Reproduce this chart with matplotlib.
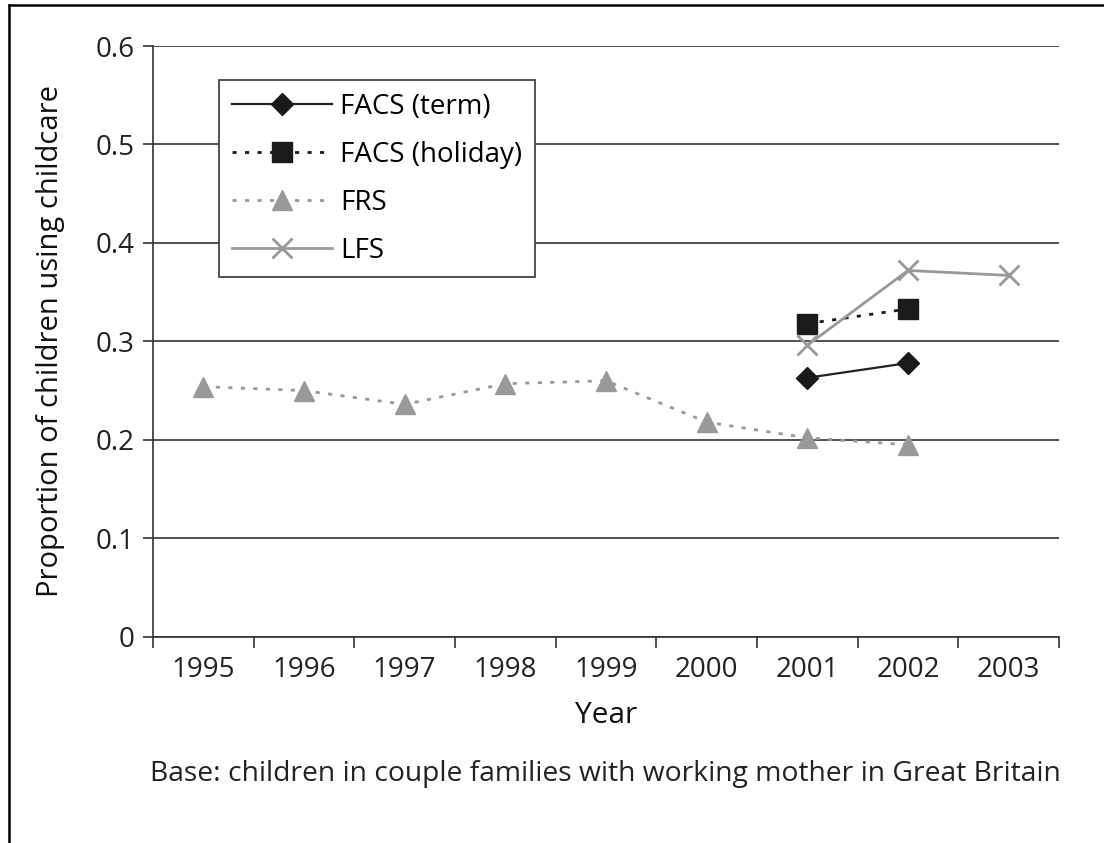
import matplotlib
matplotlib.use("Agg")
import matplotlib.pyplot as plt
from matplotlib.lines import Line2D
from matplotlib.ticker import FixedLocator

plt.rcParams['font.family'] = ['Open Sans', 'DejaVu Sans']

years = ["1995", "1996", "1997", "1998", "1999", "2000", "2001", "2002", "2003"]
frs_years = ["1995", "1996", "1997", "1998", "1999", "2000", "2001", "2002"]
frs = [0.254, 0.250, 0.236, 0.257, 0.260, 0.218, 0.202, 0.195]
facs_years = ["2001", "2002"]
facs_term = [0.263, 0.278]
facs_holiday = [0.318, 0.333]
lfs_years = ["2001", "2002", "2003"]
lfs = [0.296, 0.372, 0.367]

pos = {y: i for i, y in enumerate(years)}

fig = plt.figure(figsize=(11.04, 8.43), dpi=100)
ax = fig.add_axes([0.1386, 0.2447, 0.8206, 0.7007])

grey = "#999999"
ax.plot([pos[y] for y in facs_years], facs_term, color="#222222", lw=1.6,
        marker="D", ms=11, mfc="#1a1a1a", mec="#1a1a1a", label="FACS (term)")
ax.plot([pos[y] for y in facs_years], facs_holiday, color="#1a1a1a", lw=2,
        ls=(0, (1.5, 3)), marker="s", ms=14, mfc="#1a1a1a", mec="#1a1a1a",
        label="FACS (holiday)")
ax.plot([pos[y] for y in frs_years], frs, color=grey, lw=2, ls=(0, (1.5, 3)),
        marker="^", ms=14, mfc=grey, mec=grey, label="FRS")
ax.plot([pos[y] for y in lfs_years], lfs, color=grey, lw=2, marker="x",
        ms=14, mew=2, mfc=grey, mec=grey, label="LFS")

ax.set_xlim(-0.5, len(years) - 0.5)
ax.set_ylim(0, 0.6)
ax.set_yticks([0, 0.1, 0.2, 0.3, 0.4, 0.5, 0.6])
ax.set_yticklabels(["0", "0.1", "0.2", "0.3", "0.4", "0.5", "0.6"])
ax.set_xticks(range(len(years)))
ax.set_xticklabels(years)
ax.xaxis.set_minor_locator(FixedLocator([i - 0.5 for i in range(len(years) + 1)]))
ax.tick_params(axis="x", which="major", length=0, labelsize=20, pad=14, colors="#222222")
ax.tick_params(axis="x", which="minor", length=8, width=1.2, color="#333333")
ax.tick_params(axis="y", length=7, width=1.2, labelsize=20, pad=6, colors="#222222")
ax.tick_params(axis="y", color="#333333")

ax.grid(axis="y", color="#444444", lw=1.3)
ax.set_axisbelow(True)
for s in ["top", "right"]:
    ax.spines[s].set_visible(False)
for s in ["left", "bottom"]:
    ax.spines[s].set_color("#333333")
    ax.spines[s].set_linewidth(1.2)

ax.set_xlabel("Year", fontsize=21.5, labelpad=12, color="#111111")
ax.set_ylabel("Proportion of children using childcare", fontsize=21, labelpad=22,
              color="#111111")

leg = ax.legend(loc="upper left", bbox_to_anchor=(0.073, 0.942), borderaxespad=0,
                fontsize=20, handlelength=3.6, handletextpad=0.3, labelspacing=0.72,
                fancybox=False, framealpha=1, edgecolor="#444444", borderpad=0.45)
leg.get_frame().set_linewidth(1.3)

fig.text(0.548, 0.082, "Base: children in couple families with working mother in Great Britain",
         ha="center", va="center", fontsize=20.3, color="#222222")

fig.add_artist(Line2D([8.5 / 1104, 1], [1 - 5 / 843, 1 - 5 / 843], color="black", lw=1.8,
                      transform=fig.transFigure))
fig.add_artist(Line2D([8.5 / 1104, 8.5 / 1104], [0, 1 - 5 / 843], color="black", lw=1.8,
                      transform=fig.transFigure))

fig.savefig("out.png", dpi=100)
